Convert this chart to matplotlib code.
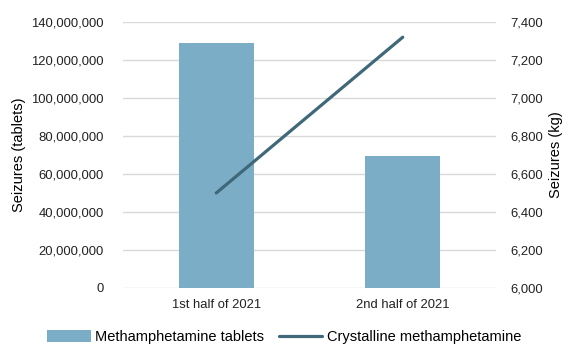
import matplotlib.pyplot as plt
from matplotlib.ticker import FuncFormatter

# Data
periods = ["1st half of 2021", "2nd half of 2021"]
tablets = [128_800_000, 69_500_000]
crystalline_kg = [6_500, 7_320]

BAR_COLOR = "#7BADC6"
LINE_COLOR = "#3F6878"
GRID_COLOR = "#D9D9D9"

plt.rcParams["font.family"] = ["Liberation Sans", "DejaVu Sans"]

fig = plt.figure(figsize=(5.68, 3.47), dpi=100)
ax = fig.add_axes([123 / 568, 1 - 288 / 347, (496 - 123) / 568, (288 - 22) / 347])
ax2 = ax.twinx()

x = list(range(len(periods)))
bars = ax.bar(x, tablets, width=0.4, color=BAR_COLOR, zorder=2,
              label="Methamphetamine tablets")
line, = ax2.plot(x, crystalline_kg, color=LINE_COLOR, lw=2.3,
                 solid_capstyle="round", label="Crystalline methamphetamine")

ax.set_xlim(-0.5, 1.5)
ax.set_ylim(0, 140_000_000)
ax.set_yticks(range(0, 140_000_001, 20_000_000))
ax2.set_ylim(6000, 7400)
ax2.set_yticks(range(6000, 7401, 200))

fmt = FuncFormatter(lambda v, _: f"{int(v):,}")
ax.yaxis.set_major_formatter(fmt)
ax2.yaxis.set_major_formatter(fmt)

ax.set_xticks(x)
ax.set_xticklabels(periods)
ax.grid(axis="y", color=GRID_COLOR, lw=1, zorder=0)
ax.set_axisbelow(True)

for a in (ax, ax2):
    for side in ("top", "left", "right", "bottom"):
        a.spines[side].set_visible(False)
    a.tick_params(length=0, colors="#222222", labelsize=9.4)
ax.tick_params(axis="y", pad=14)
ax2.tick_params(axis="y", pad=10)
ax.tick_params(axis="x", pad=8)

ax.set_ylabel("Seizures (tablets)", fontsize=10.5, labelpad=0)
ax2.set_ylabel("Seizures (kg)", fontsize=10.5, labelpad=5)
ax.yaxis.set_label_coords(-97 / 373, 0.5)
ax2.yaxis.set_label_coords(1 + 53 / 373, 0.5)

fig.legend([bars, line], ["Methamphetamine tablets", "Crystalline methamphetamine"],
           loc="lower center", bbox_to_anchor=(0.5, -0.03), ncol=2, frameon=False,
           fontsize=10.5, handlelength=3.0, handleheight=0.9, columnspacing=1.0,
           handletextpad=0.3)

fig.savefig("out.png", dpi=100)
